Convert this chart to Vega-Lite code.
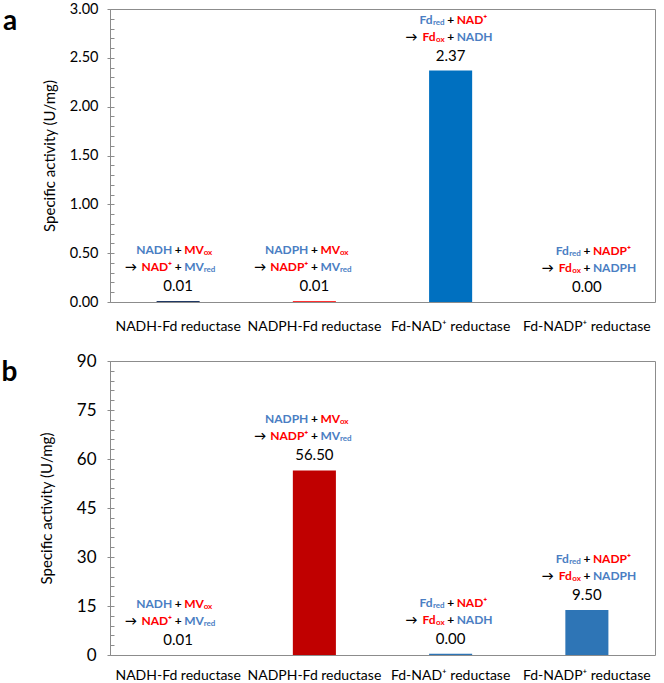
{
  "$schema": "https://vega.github.io/schema/vega-lite/v6.json",
  "padding": {"left": 0, "top": 0, "right": 0, "bottom": 0},
  "config": {
    "font": "Lato",
    "view": {"stroke": "#8c8c8c", "strokeWidth": 1},
    "axis": {"labelColor": "#000000", "titleColor": "#000000", "labelFont": "Lato", "titleFont": "Lato", "grid": false},
    "title": {"font": "Lato", "color": "#000000"}
  },
  "datasets": {
    "bars": [
      {"panel": "a", "enzyme": "NADH-Fd reductase", "activity": 0.01, "label": "0.01", "r1": "NADH", "r1s": "", "r2": "MV", "r2s": "ox", "p1": "NAD⁺", "p1s": "", "p2": "MV", "p2s": "red"},
      {"panel": "a", "enzyme": "NADPH-Fd reductase", "activity": 0.01, "label": "0.01", "r1": "NADPH", "r1s": "", "r2": "MV", "r2s": "ox", "p1": "NADP⁺", "p1s": "", "p2": "MV", "p2s": "red"},
      {"panel": "a", "enzyme": "Fd-NAD⁺ reductase", "activity": 2.37, "label": "2.37", "r1": "Fd", "r1s": "red", "r2": "NAD⁺", "r2s": "", "p1": "Fd", "p1s": "ox", "p2": "NADH", "p2s": ""},
      {"panel": "a", "enzyme": "Fd-NADP⁺ reductase", "activity": 0.0, "label": "0.00", "r1": "Fd", "r1s": "red", "r2": "NADP⁺", "r2s": "", "p1": "Fd", "p1s": "ox", "p2": "NADPH", "p2s": ""},
      {"panel": "b", "enzyme": "NADH-Fd reductase", "activity": 0.01, "label": "0.01", "r1": "NADH", "r1s": "", "r2": "MV", "r2s": "ox", "p1": "NAD⁺", "p1s": "", "p2": "MV", "p2s": "red"},
      {"panel": "b", "enzyme": "NADPH-Fd reductase", "activity": 56.5, "label": "56.50", "r1": "NADPH", "r1s": "", "r2": "MV", "r2s": "ox", "p1": "NADP⁺", "p1s": "", "p2": "MV", "p2s": "red"},
      {"panel": "b", "enzyme": "Fd-NAD⁺ reductase", "activity": 0.4, "label": "0.00", "r1": "Fd", "r1s": "red", "r2": "NAD⁺", "r2s": "", "p1": "Fd", "p1s": "ox", "p2": "NADH", "p2s": ""},
      {"panel": "b", "enzyme": "Fd-NADP⁺ reductase", "activity": 13.8, "label": "9.50", "r1": "Fd", "r1s": "red", "r2": "NADP⁺", "r2s": "", "p1": "Fd", "p1s": "ox", "p2": "NADPH", "p2s": ""}
    ]
  },
  "vconcat": [
    {
      "width": 545,
      "height": 293,
      "title": {"text": "a", "orient": "left", "anchor": "end", "frame": "group", "angle": 0, "align": "right", "baseline": "alphabetic", "offset": 11, "dy": 21, "fontSize": 28, "fontWeight": "bold"},
      "data": {"name": "bars"},
      "transform": [{"filter": "datum.panel == 'a'"}],
      "encoding": {
        "x": {"field": "enzyme", "type": "nominal", "sort": null, "scale": {"paddingInner": 0.684, "paddingOuter": 0.342},
              "axis": {"title": null, "labelAngle": 0, "ticks": false, "domain": false, "labelPadding": 17, "labelFontSize": 14, "labelOverlap": false, "labelLimit": 300}},
        "y": {"field": "activity", "type": "quantitative", "scale": {"domain": [0, 3], "nice": false}, "axis": null}
      },
      "layer": [
        {"mark": {"type": "bar"},
         "encoding": {
           "color": {"field": "enzyme", "type": "nominal", "sort": null, "legend": null,
                     "scale": {"domain": ["NADH-Fd reductase", "NADPH-Fd reductase", "Fd-NAD⁺ reductase", "Fd-NADP⁺ reductase"], "range": ["#1F3864", "#FF3030", "#0070C0", "#0070C0"]}},
           "y": {"field": "activity", "type": "quantitative",
                 "axis": {"orient": "left", "title": "Specific activity (U/mg)", "values": [0, 0.5, 1, 1.5, 2, 2.5, 3], "format": ".2f", "tickSize": 3, "tickColor": "#8c8c8c", "domainColor": "#8c8c8c", "labelFontSize": 14.5, "labelPadding": 9, "titleFontSize": 15, "titleFontWeight": "normal", "titlePadding": 12}}
         }},
        {"mark": {"type": "text", "fontSize": 15, "dy": -15, "baseline": "middle", "color": "#000000"},
         "encoding": {
           "text": {"field": "label"},
           "y": {"field": "activity", "type": "quantitative",
                 "axis": {"orient": "left", "title": null, "labels": false, "domain": false, "tickSize": -4, "tickColor": "#8c8c8c",
                          "values": [0, 0.1, 0.2, 0.3, 0.4, 0.5, 0.6, 0.7, 0.8, 0.9, 1, 1.1, 1.2, 1.3, 1.4, 1.5, 1.6, 1.7, 1.8, 1.9, 2, 2.1, 2.2, 2.3, 2.4, 2.5, 2.6, 2.7, 2.8, 2.9, 3]}}
         }},
        {"transform": [{"filter": "datum.r1s == ''"}],
         "mark": {"type": "text", "fontSize": 12, "fontWeight": "bold", "align": "right", "dx": -6, "dy": -51, "baseline": "middle", "color": "#4A7EC3"},
         "encoding": {"text": {"field": "r1"}}},
        {"transform": [{"filter": "datum.r1s != ''"}],
         "mark": {"type": "text", "fontSize": 12, "fontWeight": "bold", "align": "right", "dx": -18, "dy": -51, "baseline": "middle", "color": "#4A7EC3"},
         "encoding": {"text": {"field": "r1"}}},
        {"mark": {"type": "text", "fontSize": 8, "fontWeight": "bold", "align": "right", "dx": -6, "dy": -48, "baseline": "middle", "color": "#4A7EC3"},
         "encoding": {"text": {"field": "r1s"}}},
        {"mark": {"type": "text", "fontSize": 12, "fontWeight": "bold", "align": "center", "dx": 0, "dy": -51, "baseline": "middle", "color": "#000000"},
         "encoding": {"text": {"value": "+"}}},
        {"mark": {"type": "text", "fontSize": 12, "fontWeight": "bold", "align": "left", "dx": 6, "dy": -51, "baseline": "middle", "color": "#FF0000"},
         "encoding": {"text": {"field": "r2"}}},
        {"mark": {"type": "text", "fontSize": 8, "fontWeight": "bold", "align": "left", "dx": 25.5, "dy": -48, "baseline": "middle", "color": "#FF0000"},
         "encoding": {"text": {"field": "r2s"}}},
        {"transform": [{"filter": "datum.p1 == 'NAD⁺'"}],
         "mark": {"type": "text", "fontSize": 12, "fontWeight": "bold", "align": "right", "dx": -41, "dy": -34, "baseline": "middle", "color": "#000000"},
         "encoding": {"text": {"value": "→"}}},
        {"transform": [{"filter": "datum.p1 == 'NADP⁺'"}],
         "mark": {"type": "text", "fontSize": 12, "fontWeight": "bold", "align": "right", "dx": -48, "dy": -34, "baseline": "middle", "color": "#000000"},
         "encoding": {"text": {"value": "→"}}},
        {"transform": [{"filter": "datum.p1 == 'Fd'"}],
         "mark": {"type": "text", "fontSize": 12, "fontWeight": "bold", "align": "right", "dx": -33, "dy": -34, "baseline": "middle", "color": "#000000"},
         "encoding": {"text": {"value": "→"}}},
        {"transform": [{"filter": "datum.p1s == ''"}],
         "mark": {"type": "text", "fontSize": 12, "fontWeight": "bold", "align": "right", "dx": -6, "dy": -34, "baseline": "middle", "color": "#FF0000"},
         "encoding": {"text": {"field": "p1"}}},
        {"transform": [{"filter": "datum.p1s != ''"}],
         "mark": {"type": "text", "fontSize": 12, "fontWeight": "bold", "align": "right", "dx": -15, "dy": -34, "baseline": "middle", "color": "#FF0000"},
         "encoding": {"text": {"field": "p1"}}},
        {"mark": {"type": "text", "fontSize": 8, "fontWeight": "bold", "align": "right", "dx": -6, "dy": -31, "baseline": "middle", "color": "#FF0000"},
         "encoding": {"text": {"field": "p1s"}}},
        {"mark": {"type": "text", "fontSize": 12, "fontWeight": "bold", "align": "center", "dx": 0, "dy": -34, "baseline": "middle", "color": "#000000"},
         "encoding": {"text": {"value": "+"}}},
        {"mark": {"type": "text", "fontSize": 12, "fontWeight": "bold", "align": "left", "dx": 6, "dy": -34, "baseline": "middle", "color": "#4A7EC3"},
         "encoding": {"text": {"field": "p2"}}},
        {"mark": {"type": "text", "fontSize": 8, "fontWeight": "bold", "align": "left", "dx": 25.5, "dy": -31, "baseline": "middle", "color": "#4A7EC3"},
         "encoding": {"text": {"field": "p2s"}}}
      ],
      "resolve": {"axis": {"y": "independent"}}
    },
    {
      "width": 545,
      "height": 294,
      "title": {"text": "b", "orient": "left", "anchor": "end", "frame": "group", "angle": 0, "align": "right", "baseline": "alphabetic", "offset": 6, "dy": 20, "fontSize": 28, "fontWeight": "bold"},
      "data": {"name": "bars"},
      "transform": [{"filter": "datum.panel == 'b'"}],
      "encoding": {
        "x": {"field": "enzyme", "type": "nominal", "sort": null, "scale": {"paddingInner": 0.684, "paddingOuter": 0.342},
              "axis": {"title": null, "labelAngle": 0, "ticks": false, "domain": false, "labelPadding": 13, "labelFontSize": 14, "labelOverlap": false, "labelLimit": 300}},
        "y": {"field": "activity", "type": "quantitative", "scale": {"domain": [0, 90], "nice": false}, "axis": null}
      },
      "layer": [
        {"mark": {"type": "bar"},
         "encoding": {
           "color": {"field": "enzyme", "type": "nominal", "sort": null, "legend": null,
                     "scale": {"domain": ["NADH-Fd reductase", "NADPH-Fd reductase", "Fd-NAD⁺ reductase", "Fd-NADP⁺ reductase"], "range": ["#2E75B6", "#C00000", "#2E75B6", "#2E75B6"]}},
           "y": {"field": "activity", "type": "quantitative",
                 "axis": {"orient": "left", "title": "Specific activity (U/mg)", "values": [0, 15, 30, 45, 60, 75, 90], "format": "d", "tickSize": 3, "tickColor": "#8c8c8c", "domainColor": "#8c8c8c", "labelFontSize": 17, "labelPadding": 11, "titleFontSize": 15, "titleFontWeight": "normal", "titlePadding": 22}}
         }},
        {"mark": {"type": "text", "fontSize": 15, "dy": -15, "baseline": "middle", "color": "#000000"},
         "encoding": {
           "text": {"field": "label"},
           "y": {"field": "activity", "type": "quantitative",
                 "axis": {"orient": "left", "title": null, "labels": false, "domain": false, "tickSize": -4, "tickColor": "#8c8c8c",
                          "values": [0, 3, 6, 9, 12, 15, 18, 21, 24, 27, 30, 33, 36, 39, 42, 45, 48, 51, 54, 57, 60, 63, 66, 69, 72, 75, 78, 81, 84, 87, 90]}}
         }},
        {"transform": [{"filter": "datum.r1s == ''"}],
         "mark": {"type": "text", "fontSize": 12, "fontWeight": "bold", "align": "right", "dx": -6, "dy": -51, "baseline": "middle", "color": "#4A7EC3"},
         "encoding": {"text": {"field": "r1"}}},
        {"transform": [{"filter": "datum.r1s != ''"}],
         "mark": {"type": "text", "fontSize": 12, "fontWeight": "bold", "align": "right", "dx": -18, "dy": -51, "baseline": "middle", "color": "#4A7EC3"},
         "encoding": {"text": {"field": "r1"}}},
        {"mark": {"type": "text", "fontSize": 8, "fontWeight": "bold", "align": "right", "dx": -6, "dy": -48, "baseline": "middle", "color": "#4A7EC3"},
         "encoding": {"text": {"field": "r1s"}}},
        {"mark": {"type": "text", "fontSize": 12, "fontWeight": "bold", "align": "center", "dx": 0, "dy": -51, "baseline": "middle", "color": "#000000"},
         "encoding": {"text": {"value": "+"}}},
        {"mark": {"type": "text", "fontSize": 12, "fontWeight": "bold", "align": "left", "dx": 6, "dy": -51, "baseline": "middle", "color": "#FF0000"},
         "encoding": {"text": {"field": "r2"}}},
        {"mark": {"type": "text", "fontSize": 8, "fontWeight": "bold", "align": "left", "dx": 25.5, "dy": -48, "baseline": "middle", "color": "#FF0000"},
         "encoding": {"text": {"field": "r2s"}}},
        {"transform": [{"filter": "datum.p1 == 'NAD⁺'"}],
         "mark": {"type": "text", "fontSize": 12, "fontWeight": "bold", "align": "right", "dx": -41, "dy": -34, "baseline": "middle", "color": "#000000"},
         "encoding": {"text": {"value": "→"}}},
        {"transform": [{"filter": "datum.p1 == 'NADP⁺'"}],
         "mark": {"type": "text", "fontSize": 12, "fontWeight": "bold", "align": "right", "dx": -48, "dy": -34, "baseline": "middle", "color": "#000000"},
         "encoding": {"text": {"value": "→"}}},
        {"transform": [{"filter": "datum.p1 == 'Fd'"}],
         "mark": {"type": "text", "fontSize": 12, "fontWeight": "bold", "align": "right", "dx": -33, "dy": -34, "baseline": "middle", "color": "#000000"},
         "encoding": {"text": {"value": "→"}}},
        {"transform": [{"filter": "datum.p1s == ''"}],
         "mark": {"type": "text", "fontSize": 12, "fontWeight": "bold", "align": "right", "dx": -6, "dy": -34, "baseline": "middle", "color": "#FF0000"},
         "encoding": {"text": {"field": "p1"}}},
        {"transform": [{"filter": "datum.p1s != ''"}],
         "mark": {"type": "text", "fontSize": 12, "fontWeight": "bold", "align": "right", "dx": -15, "dy": -34, "baseline": "middle", "color": "#FF0000"},
         "encoding": {"text": {"field": "p1"}}},
        {"mark": {"type": "text", "fontSize": 8, "fontWeight": "bold", "align": "right", "dx": -6, "dy": -31, "baseline": "middle", "color": "#FF0000"},
         "encoding": {"text": {"field": "p1s"}}},
        {"mark": {"type": "text", "fontSize": 12, "fontWeight": "bold", "align": "center", "dx": 0, "dy": -34, "baseline": "middle", "color": "#000000"},
         "encoding": {"text": {"value": "+"}}},
        {"mark": {"type": "text", "fontSize": 12, "fontWeight": "bold", "align": "left", "dx": 6, "dy": -34, "baseline": "middle", "color": "#4A7EC3"},
         "encoding": {"text": {"field": "p2"}}},
        {"mark": {"type": "text", "fontSize": 8, "fontWeight": "bold", "align": "left", "dx": 25.5, "dy": -31, "baseline": "middle", "color": "#4A7EC3"},
         "encoding": {"text": {"field": "p2s"}}}
      ],
      "resolve": {"axis": {"y": "independent"}}
    }
  ],
  "spacing": 17,
  "resolve": {"scale": {"y": "independent", "color": "independent"}}
}
